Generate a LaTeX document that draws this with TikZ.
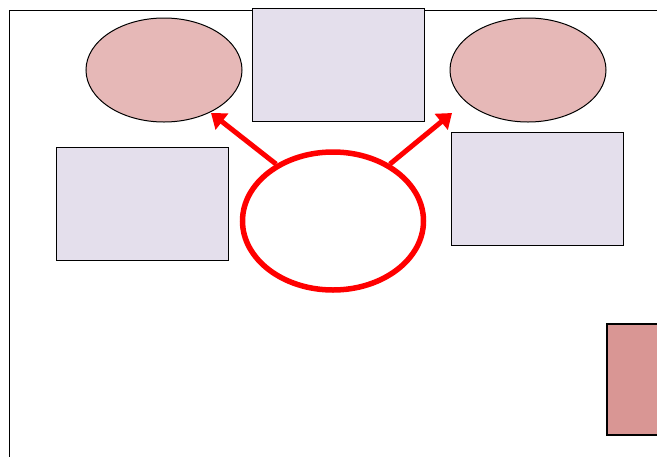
\documentclass[tikz,border=0pt]{standalone}
\usetikzlibrary{arrows.meta,shapes.geometric}
\definecolor{pinkfill}{HTML}{E6B8B7}
\definecolor{lavfill}{HTML}{E4DFEC}
\definecolor{rosefill}{HTML}{D99694}
\tikzset{
  oval/.style={ellipse,draw=black,line width=1pt,fill=pinkfill,minimum width=156pt,minimum height=104pt,inner sep=0pt},
  card/.style={rectangle,draw=black,line width=1pt,fill=lavfill,minimum width=172pt,minimum height=113pt,inner sep=0pt},
  redarrow/.style={draw=red,line width=5pt,-{Triangle[length=14pt,width=20pt]}}
}
\begin{document}
\begin{tikzpicture}[x=1pt,y=-1pt]
\useasboundingbox (0,0) rectangle (657,456);
\draw[line width=1pt] (9,470) -- (9,10) -- (670,10);
\node[card] (topbox) at (338,64.5) {};
\node[oval] (leftoval) at (164,70) {};
\node[oval] (rightoval) at (528,70) {};
\node[card] (leftbox) at (142.5,203.5) {};
\node[card] (rightbox) at (537,188.5) {};
\node[ellipse,draw=red,line width=5.5pt,fill=white,minimum width=181pt,minimum height=138pt,inner sep=0pt] (hub) at (333,221) {};
\node[rectangle,draw=black,line width=1.5pt,fill=rosefill,minimum width=70pt,minimum height=111pt,inner sep=0pt] (sidebox) at (642,379.5) {};
\coordinate (la) at (211,113);
\coordinate (ra) at (452,113);
\draw[redarrow] (hub.135) -- (la);
\draw[redarrow] (hub.45) -- (ra);
\end{tikzpicture}
\end{document}
